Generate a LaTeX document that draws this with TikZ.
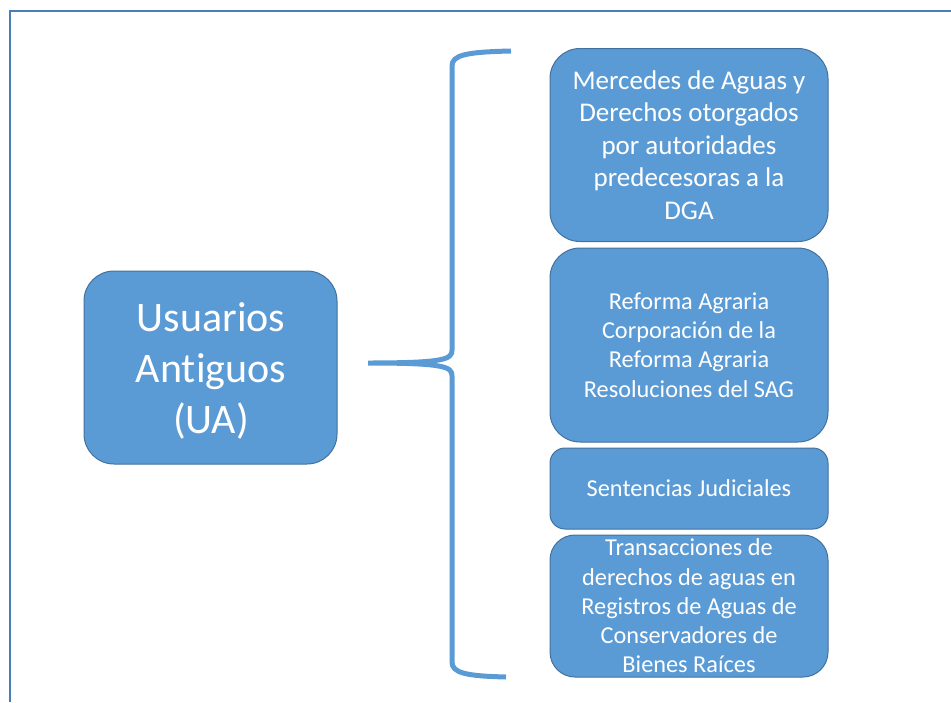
\documentclass[tikz,border=0pt]{standalone}
\usepackage{fontspec}
\setmainfont{Carlito}[Ligatures={NoCommon}]
\definecolor{boxfill}{HTML}{5B9BD5}
\definecolor{boxline}{HTML}{41719C}
\definecolor{framecol}{HTML}{4A7EBB}
\definecolor{bracecol}{HTML}{5B9BD5}
\tikzset{
  ubox/.style={draw=boxline, line width=1pt, fill=boxfill, text=white, align=center, inner sep=0pt, minimum width=#1},
  bigtext/.style={font=\fontsize{42}{51}\selectfont},
  midtext/.style={font=\fontsize{27}{32.5}\selectfont},
  smalltext/.style={font=\fontsize{24.3}{29.2}\selectfont},
}
\begin{document}
\begin{tikzpicture}[x=1pt,y=-1pt]
\useasboundingbox (0,0) rectangle (951,702);
% frame
\draw[framecol, line width=2pt] (9.5,702) -- (9.5,10.5) -- (951,10.5);
% left box
\node[ubox=253pt, minimum height=193pt, rounded corners=30pt] (ua) at (210.5,367.5) {};
\node[bigtext, text=white, align=center, inner sep=0pt] (uat) at (211,371) {Usuarios\\Antiguos\\(UA)};
% right boxes
\node[ubox=278pt, minimum height=193pt, rounded corners=30pt, midtext] (b1) at (689,145) {Mercedes de Aguas y\\Derechos otorgados\\por autoridades\\predecesoras a la\\DGA};
\node[ubox=278pt, minimum height=194pt, rounded corners=30pt, smalltext] (b2) at (689,345) {Reforma Agraria\\Corporación de la\\Reforma Agraria\\Resoluciones del SAG};
\node[ubox=278pt, minimum height=81pt, rounded corners=15pt, smalltext] (b3) at (689,488.5) {Sentencias Judiciales};
\node[ubox=278pt, minimum height=142pt, rounded corners=25pt, smalltext] (b4) at (689,606) {Transacciones de\\derechos de aguas en\\Registros de Aguas de\\Conservadores de\\Bienes Raíces};
% brace
\coordinate (btop) at (511,51);
\coordinate (btip) at (368,363);
\coordinate (bbot) at (506,677);
\draw[bracecol, line width=5pt]
  (btop) .. controls (466,52) and (452,55) .. (452,66)
  -- (452,350) .. controls (452,359) and (446,363) .. (btip)
  .. controls (446,363) and (452,367) .. (452,376)
  -- (452,662) .. controls (452,673) and (466,676) .. (bbot);
\end{tikzpicture}
\end{document}
